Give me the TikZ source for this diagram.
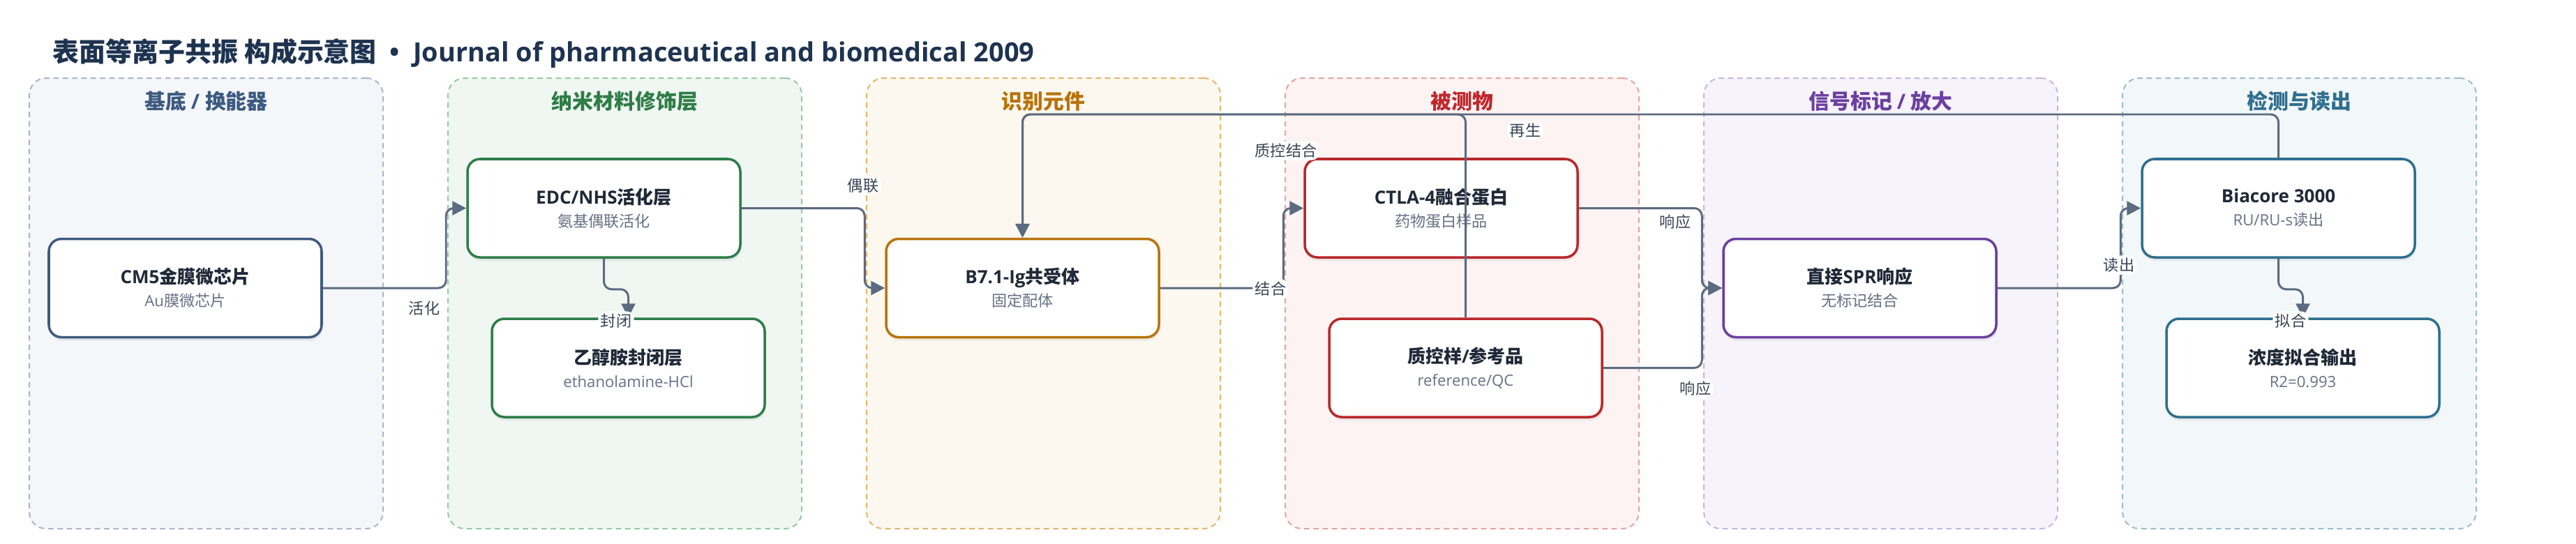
\documentclass[tikz,border=0pt]{standalone}
\usepackage{fontspec}
\setmainfont{Open Sans}
\newfontfamily\cjkfont{Noto Sans CJK SC}
\newfontfamily\latinfont{Open Sans}
\newcount\cjkcnt
\cjkcnt="4E00
\loop
  \XeTeXcharclass\cjkcnt=1
  \advance\cjkcnt by 1
\ifnum\cjkcnt<"A000 \repeat
\XeTeXinterchartokenstate=1
\XeTeXinterchartoks 0 1 = {\cjkfont}
\XeTeXinterchartoks 4095 1 = {\cjkfont}
\XeTeXinterchartoks 1 0 = {\latinfont}
\XeTeXinterchartoks 4095 0 = {\latinfont}
\usepackage{xcolor}
\usepackage{tikz}
\usetikzlibrary{positioning,shadows,arrows.meta}

\definecolor{titlec}{HTML}{1E3350}
\definecolor{nodetext}{HTML}{1F2937}
\definecolor{subc}{HTML}{667085}
\definecolor{labc}{HTML}{3A4454}
\definecolor{edgec}{HTML}{5B6B80}
\definecolor{g1text}{HTML}{3D5A80}\definecolor{g1fill}{HTML}{F4F6FA}
\definecolor{g1line}{HTML}{A9B6CA}\definecolor{n1}{HTML}{3F5A80}
\definecolor{g2text}{HTML}{2E7D46}\definecolor{g2fill}{HTML}{F0F7F2}
\definecolor{g2line}{HTML}{98C8A5}\definecolor{n2}{HTML}{2E7D4A}
\definecolor{g3text}{HTML}{B8730C}\definecolor{g3fill}{HTML}{FDF8EF}
\definecolor{g3line}{HTML}{E2B56E}\definecolor{n3}{HTML}{B8730C}
\definecolor{g4text}{HTML}{C0282D}\definecolor{g4fill}{HTML}{FDF3F3}
\definecolor{g4line}{HTML}{E6A3A3}\definecolor{n4}{HTML}{B8282A}
\definecolor{g5text}{HTML}{6B3FA0}\definecolor{g5fill}{HTML}{F7F3FB}
\definecolor{g5line}{HTML}{C7B5E2}\definecolor{n5}{HTML}{6B3FA0}
\definecolor{g6text}{HTML}{2F6F8F}\definecolor{g6fill}{HTML}{F2F7F9}
\definecolor{g6line}{HTML}{9DBDCC}\definecolor{n6}{HTML}{2F6F8F}

\newcommand{\twoline}[2]{{\bfseries #1}\\{\fontsize{6.3}{9.4}\selectfont\color{subc}#2}}

\begin{document}
\begin{tikzpicture}[x=1cm,y=1cm,
  every node/.style={inner sep=0pt},
  grp/.style={rounded corners=0.24cm,line width=0.57pt,dash pattern=on 2.2pt off 1.6pt,
              minimum width=5.07cm,minimum height=6.46cm},
  grptitle/.style={font=\fontsize{8.5}{10}\selectfont\bfseries},
  box/.style={draw=#1,fill=white,line width=1pt,rounded corners=0.18cm,
              minimum width=3.91cm,minimum height=1.41cm,align=center,
              text=nodetext,font=\fontsize{7.4}{9.4}\selectfont,
              drop shadow={shadow xshift=0.01cm,shadow yshift=-0.05cm,opacity=0.13}},
  edge/.style={draw=edgec,line width=0.85pt,rounded corners=0.11cm,
               -{Triangle[length=0.2cm,width=0.2cm]}},
  lbl/.style={fill=white,inner sep=1pt,text=labc,font=\fontsize{6.3}{7}\selectfont}]
\useasboundingbox (0,0) rectangle (36.92,-7.79);
\node[anchor=west,text=titlec,font=\fontsize{10.8}{13}\selectfont\bfseries] (title)
    at (0.75,-0.765) {表面等离子共振 构成示意图\hspace{0.5em}•\hspace{0.5em}Journal of pharmaceutical and biomedical 2009};

\node[grp,draw=g1line,fill=g1fill] (g1) at (2.955,-4.35) {};
\node[grp,draw=g2line,fill=g2fill] (g2) at (8.955,-4.35) {};
\node[grp,draw=g3line,fill=g3fill] (g3) at (14.955,-4.35) {};
\node[grp,draw=g4line,fill=g4fill] (g4) at (20.955,-4.35) {};
\node[grp,draw=g5line,fill=g5fill] (g5) at (26.955,-4.35) {};
\node[grp,draw=g6line,fill=g6fill] (g6) at (32.955,-4.35) {};
\node[grptitle,text=g1text] (g1t) at (2.955,-1.45) {基底 / 换能器};
\node[grptitle,text=g2text] (g2t) at (8.955,-1.45) {纳米材料修饰层};
\node[grptitle,text=g3text] (g3t) at (14.955,-1.45) {识别元件};
\node[grptitle,text=g4text] (g4t) at (20.955,-1.45) {被测物};
\node[grptitle,text=g5text] (g5t) at (26.955,-1.45) {信号标记 / 放大};
\node[grptitle,text=g6text] (g6t) at (32.955,-1.45) {检测与读出};

\node[box=n1] (cm5) at (2.655,-4.13) {\twoline{CM5金膜微芯片}{Au膜微芯片}};
\node[box=n2] (edc) at (8.655,-2.985) {\twoline{EDC/NHS活化层}{氨基偶联活化}};
\node[box=n2] (eta) at (9.005,-5.275) {\twoline{乙醇胺封闭层}{ethanolamine-HCl}};
\node[box=n3] (b71) at (14.655,-4.13) {\twoline{B7.1-Ig共受体}{固定配体}};
\node[box=n4] (ctla) at (20.655,-2.985) {\twoline{CTLA-4融合蛋白}{药物蛋白样品}};
\node[box=n4] (qc) at (21.005,-5.275) {\twoline{质控样/参考品}{reference/QC}};
\node[box=n5] (spr) at (26.655,-4.13) {\twoline{直接SPR响应}{无标记结合}};
\node[box=n6] (bia) at (32.655,-2.985) {\twoline{Biacore 3000}{RU/RU-s读出}};
\node[box=n6] (fit) at (33.005,-5.275) {\twoline{浓度拟合输出}{R2=0.993}};

\coordinate (rail) at (0,-1.64);
\draw[edge] (cm5.east) -| ([xshift=-0.29cm]edc.west) -- (edc.west)
    node[lbl] at (6.08,-4.42) {活化};
\draw[edge] (edc.south) -- ++(0,-0.44) -| (eta.north)
    node[lbl] at (8.83,-4.60) {封闭};
\draw[edge] (edc.east) -| ([xshift=-0.29cm]b71.west) -- (b71.west)
    node[lbl] at (12.37,-2.66) {偶联};
\draw[edge] (b71.east) -| ([xshift=-0.29cm]ctla.west) -- (ctla.west)
    node[lbl] at (18.21,-4.14) {结合};
\draw[edge] (qc.north) |- (b71.north |- rail) -- (b71.north)
    node[lbl] at (18.43,-2.16) {质控结合};
\draw[edge] (bia.north) |- (b71.north |- rail) -- (b71.north)
    node[lbl] at (21.86,-1.87) {再生};
\draw[edge] (ctla.east) -| ([xshift=-0.29cm]spr.west) -- (spr.west)
    node[lbl] at (24.01,-3.18) {响应};
\draw[edge] (qc.east) -| ([xshift=-0.29cm]spr.west) -- (spr.west)
    node[lbl] at (24.30,-5.57) {响应};
\draw[edge] (spr.east) -| ([xshift=-0.29cm]bia.west) -- (bia.west)
    node[lbl] at (30.37,-3.80) {读出};
\draw[edge] (bia.south) -- ++(0,-0.44) -| (fit.north)
    node[lbl] at (32.83,-4.60) {拟合};
\end{tikzpicture}
\end{document}
